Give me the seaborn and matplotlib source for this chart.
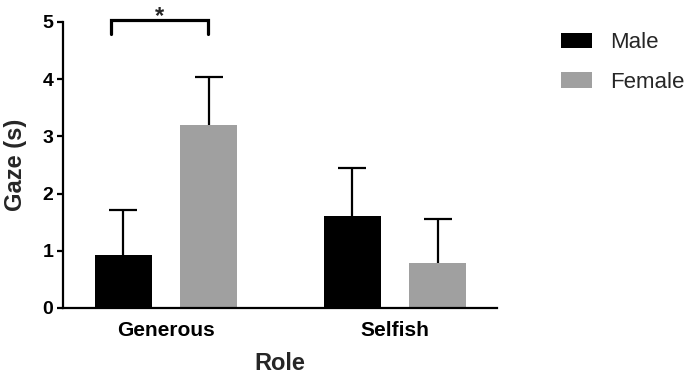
import numpy as np
import pandas as pd
import matplotlib
matplotlib.use('Agg')
import matplotlib.pyplot as plt
import seaborn as sns

roles = ['Generous', 'Selfish']
sexes = ['Male', 'Female']
male_mean = [0.93, 1.60]
female_mean = [3.20, 0.79]
male_sem = [0.78, 0.84]
female_sem = [0.83, 0.77]
colors = ['#000000', '#a0a0a0']

df = pd.DataFrame({
    'Role': roles * 2,
    'Sex': [sexes[0]] * 2 + [sexes[1]] * 2,
    'Gaze': male_mean + female_mean,
    'SEM': male_sem + female_sem,
})

sns.set_style('ticks')
plt.rcParams['font.family'] = ['Liberation Sans', 'DejaVu Sans']

fig = plt.figure(figsize=(6.85, 3.75), dpi=100)
ax = fig.add_axes([63 / 685, 67 / 375, 434 / 685, 286 / 375])

sns.barplot(data=df, x='Role', y='Gaze', hue='Sex', order=roles, hue_order=sexes,
            palette=colors, errorbar=None, width=0.744, gap=0.33,
            saturation=1, linewidth=0, ax=ax)

# upper-only error bars (SEM)
for cont, sex in zip(ax.containers, sexes):
    sub = df[df['Sex'] == sex].set_index('Role').loc[roles]
    xs = [b.get_x() + b.get_width() / 2 for b in cont]
    eb = ax.errorbar(xs, sub['Gaze'], yerr=[np.zeros(len(xs)), sub['SEM']],
                     fmt='none', ecolor='black', elinewidth=1.6, capsize=10,
                     capthick=1.6, zorder=1)
    eb[1][0].set_visible(False)  # drop the lower cap

ax.set_xlim(-0.45, 1.445)
ax.set_ylim(0, 5)
ax.set_yticks(range(6))

for s in ['top', 'right']:
    ax.spines[s].set_visible(False)
for s in ['left', 'bottom']:
    ax.spines[s].set_linewidth(1.6)
    ax.spines[s].set_color('black')

ax.tick_params(axis='y', length=4, width=1.6, pad=3, labelsize=14, colors='black')
ax.tick_params(axis='x', length=0, pad=9, labelsize=15, colors='black')
for lab in ax.get_xticklabels() + ax.get_yticklabels():
    lab.set_fontweight('bold')

ax.set_xlabel('Role', fontsize=17, fontweight='bold', labelpad=9)
ax.set_ylabel('Gaze (s)', fontsize=17, fontweight='bold', labelpad=11)

# significance bracket
ax.plot([-0.24, -0.24, 0.183, 0.183], [4.79, 5.03, 5.03, 4.79], color='black',
        lw=2.3, clip_on=False, solid_joinstyle='miter')
ax.text(-0.03, 4.99, '*', ha='center', va='baseline', fontsize=17,
        fontweight='bold', clip_on=False)

handles, labels = ax.get_legend_handles_labels()
ax.legend(handles, labels, loc='upper left', bbox_to_anchor=(561 / 685, 1 - 32 / 375),
          bbox_transform=fig.transFigure, frameon=False, fontsize=16,
          handlelength=1.4, handleheight=0.68, handletextpad=0.8,
          labelspacing=0.85, borderpad=0, borderaxespad=0)

fig.savefig('out.png', dpi=100)
